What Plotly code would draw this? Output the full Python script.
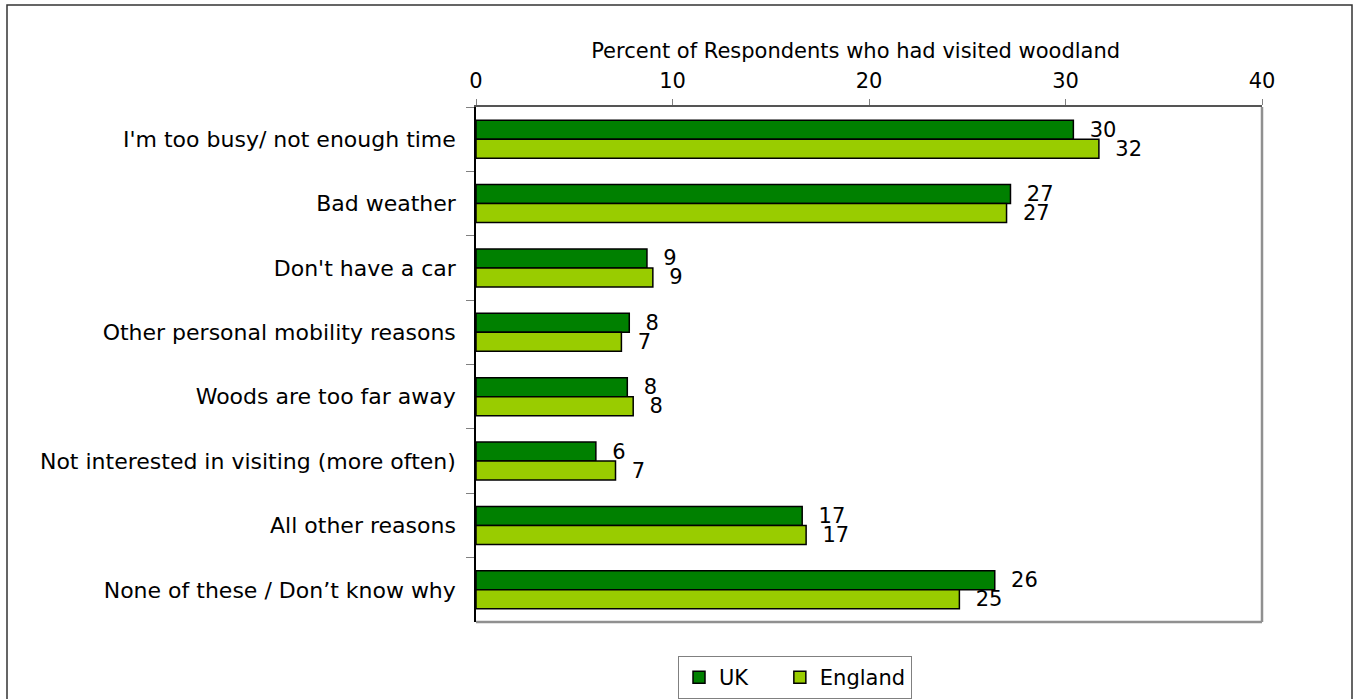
import plotly.graph_objects as go

categories = [
    "I'm too busy/ not enough time",
    "Bad weather",
    "Don't have a car",
    "Other personal mobility reasons",
    "Woods are too far away",
    "Not interested in visiting (more often)",
    "All other reasons",
    "None of these / Don\u2019t know why",
]
uk_values = [30.4, 27.2, 8.7, 7.8, 7.7, 6.1, 16.6, 26.4]
england_values = [31.7, 27.0, 9.0, 7.4, 8.0, 7.1, 16.8, 24.6]
x_ticks = [0, 10, 20, 30, 40]
series_names = ["UK", "England"]
series_colors = ["#008000", "#99CC00"]

W, H = 1354, 699
L, R, T, B = 476, 1262, 107, 622

FONT = "DejaVu Sans"
NB = "\u00a0"

fig = go.Figure()
for i, (name, vals, col) in enumerate(zip(series_names, [uk_values, england_values], series_colors)):
    legend_name = name + (NB * 4 if i == 0 else "")
    fig.add_trace(go.Bar(
        y=categories, x=vals, name=legend_name, orientation="h",
        marker=dict(color=col, line=dict(color="black", width=1.5)),
        text=vals, texttemplate=NB * 2 + "%{x:.0f}", textposition="outside",
        textfont=dict(family=FONT, size=21, color="black"),
        constraintext="none", cliponaxis=False,
    ))

pw, ph = R - L, B - T
def px(xp):
    return (xp - L) / pw
def py(yp):
    return (B - yp) / ph

fig.update_layout(
    width=W, height=H,
    margin=dict(l=L, r=W - R, t=T, b=H - B, pad=0, autoexpand=False),
    paper_bgcolor="white", plot_bgcolor="white",
    barmode="group", bargap=0.41, bargroupgap=0,
    font=dict(family=FONT, size=21, color="black"),
    showlegend=True,
    legend=dict(orientation="h", x=px(795), xanchor="center", y=py(656), yanchor="top",
                bordercolor="#808080", borderwidth=1, font=dict(size=21, family=FONT),
                traceorder="normal"),
    xaxis=dict(range=[0, 40], side="top", tickvals=x_ticks, showgrid=False, zeroline=False,
               showline=True, linecolor="#555555", linewidth=1.5, ticks="outside", ticklen=6,
               tickcolor="#808080", tickfont=dict(size=21), ticklabelstandoff=3,
               title=dict(text="Percent of Respondents who had visited woodland" + NB * 4 + "\u200b",
                          font=dict(size=21), standoff=4)),
    yaxis=dict(autorange="reversed", showgrid=False, showline=True, linecolor="black", linewidth=1.5,
               ticks="outside", tickson="boundaries", ticklen=8, tickcolor="#808080",
               tickfont=dict(size=22), ticklabelstandoff=14),
    shapes=[
        dict(type="line", xref="paper", yref="paper", x0=1, x1=1, y0=0, y1=1,
             line=dict(color="#909090", width=2.5)),
        dict(type="line", xref="paper", yref="paper", x0=0, x1=1, y0=0, y1=0,
             line=dict(color="#909090", width=2.5)),
        dict(type="rect", xref="paper", yref="paper", x0=px(7), x1=px(1352), y0=py(5), y1=py(720),
             line=dict(color="#333333", width=1.5), layer="below"),
    ],
)

fig.write_html("out.html", config={"displayModeBar": False},
               post_script="document.body.style.margin='0';")
